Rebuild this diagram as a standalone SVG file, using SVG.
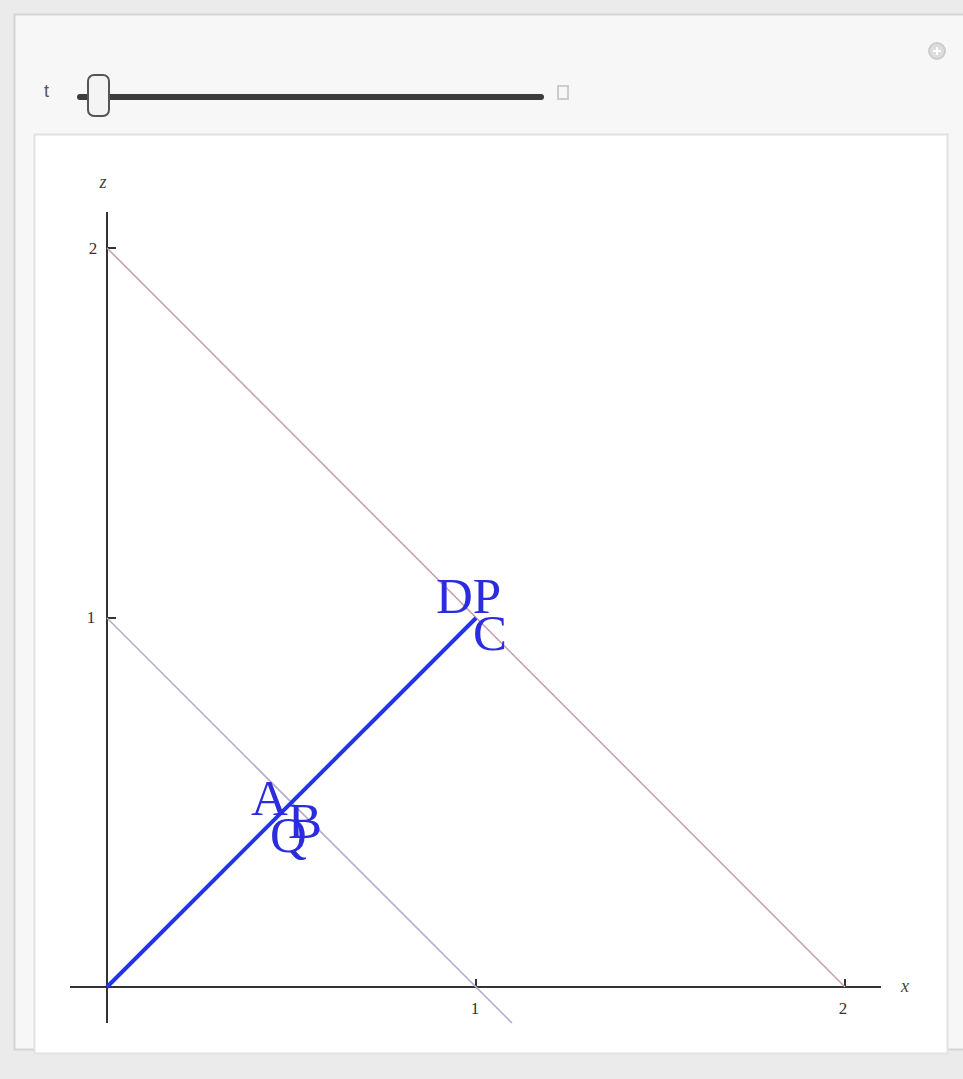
<svg xmlns="http://www.w3.org/2000/svg" width="963" height="1079" viewBox="0 0 963 1079">
<style>
.axis{stroke:#333;stroke-width:2;fill:none}
.tick{font-family:"Liberation Serif",serif;font-size:17px;fill:#333}
.lbl{font-family:"Liberation Serif",serif;font-size:51px;fill:#2b2be0}
.ax{font-family:"Liberation Serif",serif;font-style:italic;font-size:18px;fill:#444}
</style>
<rect x="0" y="0" width="963" height="1079" fill="#ebebeb"/>
<rect x="14.5" y="14.5" width="960" height="1035" fill="#f7f7f7" stroke="#d4d4d4" stroke-width="2"/>
<g id="controls">
<text x="44" y="97" font-family="Liberation Sans,sans-serif" font-size="18" fill="#555">t</text>
<line x1="80" y1="97" x2="541" y2="97" stroke="#3c3c3c" stroke-width="6" stroke-linecap="round"/>
<rect x="88" y="75" width="21" height="41" rx="6" fill="#f4f4f4" stroke="#555" stroke-width="2"/>
<rect x="558" y="86" width="10" height="13" fill="none" stroke="#ccc" stroke-width="2"/>
<circle cx="937" cy="51" r="8" fill="#ddd" stroke="#ccc" stroke-width="2"/>
<path d="M933 51h8M937 47v8" stroke="#fff" stroke-width="2"/>
</g>
<rect x="34.5" y="134.5" width="913" height="919" fill="#ffffff" stroke="#e2e2e2" stroke-width="2"/>
<g id="axes">
<line class="axis" x1="70" y1="987" x2="881" y2="987"/>
<line class="axis" x1="107" y1="212" x2="107" y2="1023"/>
<line class="axis" x1="476" y1="987" x2="476" y2="979"/>
<line class="axis" x1="845" y1="987" x2="845" y2="979"/>
<line class="axis" x1="107" y1="248" x2="116" y2="248"/>
<line class="axis" x1="107" y1="618" x2="116" y2="618"/>
<text class="tick" x="93" y="254" text-anchor="middle">2</text>
<text class="tick" x="91" y="623" text-anchor="middle">1</text>
<text class="tick" x="475" y="1014" text-anchor="middle">1</text>
<text class="tick" x="843" y="1014" text-anchor="middle">2</text>
<text class="ax" x="103" y="188" text-anchor="middle">z</text>
<text class="ax" x="905" y="992" text-anchor="middle">x</text>
</g>
<g id="connectors">
<line x1="107" y1="248" x2="845" y2="987" stroke="#c8a2b2" stroke-width="1.6"/>
<line x1="107" y1="618" x2="512" y2="1023" stroke="#b4b0cc" stroke-width="1.6"/>
<line x1="107" y1="987" x2="476" y2="618" stroke="#2233ee" stroke-width="4"/>
</g>
<g id="labels">
<text class="lbl" x="436" y="613">DP</text>
<text class="lbl" x="473" y="650">C</text>
<text class="lbl" x="251" y="815">A</text>
<text class="lbl" x="288" y="838">B</text>
<text class="lbl" x="270" y="852">Q</text>
</g>
</svg>
